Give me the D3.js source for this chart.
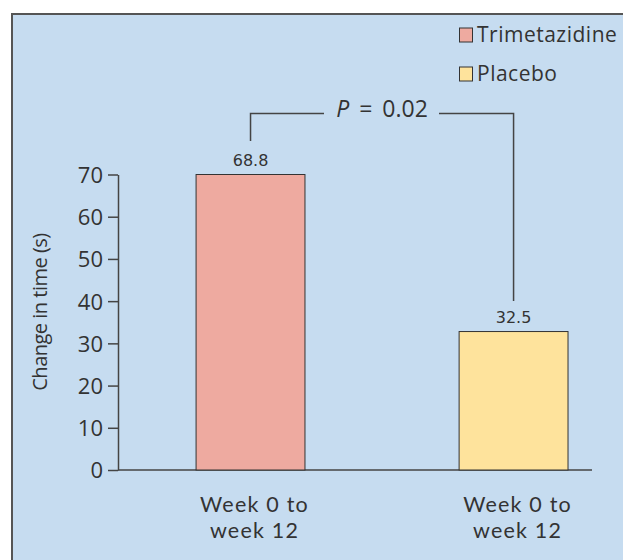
<!DOCTYPE html>
<html><head><meta charset="utf-8">
<script src="https://cdn.jsdelivr.net/npm/d3@7/dist/d3.min.js"></script>
<style>
html,body{margin:0;padding:0;background:#fff;}
svg{display:block;}
text{font-family:"Open Sans",Lato,sans-serif;fill:#333;}
</style></head>
<body>
<script>
const categories = ["Trimetazidine", "Placebo"];
const xLabels = [["Week 0 to", "week 12"], ["Week 0 to", "week 12"]];
const barValues = [70, 32.8];
const valueLabels = ["68.8", "32.5"];
const yTicks = [0, 10, 20, 30, 40, 50, 60, 70];
const colors = ["#eeaaa0", "#fee39c"];
const pText = ["P", "=", "0.02"];

const W = 623, H = 560;
const svg = d3.select("body").append("svg").attr("width", W).attr("height", H);

// panel
svg.append("rect").attr("x", 12).attr("y", 14).attr("width", W).attr("height", H)
  .attr("fill", "#c6dcf0").attr("stroke", "#555").attr("stroke-width", 2);

const y = d3.scaleLinear().domain([0, 70]).range([470, 174.5]);
const x = d3.scaleBand().domain(categories).range([118, 592])
  .paddingInner(0.586).paddingOuter(0.194).align(0.765);

// y axis
const yAxis = d3.axisLeft(y).tickValues(yTicks).tickSize(10).tickSizeOuter(0).tickPadding(5);
const gy = svg.append("g").attr("transform", "translate(118,0)").call(yAxis);
gy.selectAll("path,line").attr("stroke", "#444").attr("stroke-width", 1.5);
gy.selectAll("text").style("font-size", "22px").attr("fill", "#333").attr("dy", "0.36em");

// x axis line
svg.append("line").attr("x1", 118).attr("x2", 592).attr("y1", y(0)).attr("y2", y(0))
  .attr("stroke", "#444").attr("stroke-width", 1.5);

// bars
svg.selectAll("rect.bar").data(categories).join("rect").attr("class", "bar")
  .attr("x", d => x(d)).attr("width", x.bandwidth())
  .attr("y", (d, i) => y(barValues[i])).attr("height", (d, i) => y(0) - y(barValues[i]))
  .attr("fill", (d, i) => colors[i]).attr("stroke", "#333").attr("stroke-width", 1);

// value labels
svg.selectAll("text.val").data(categories).join("text").attr("class", "val")
  .attr("x", d => x(d) + x.bandwidth() / 2)
  .attr("y", (d, i) => y(barValues[i]) - 9)
  .attr("text-anchor", "middle").style("font-size", "16px")
  .style("font-family", "'DejaVu Sans',sans-serif")
  .text((d, i) => valueLabels[i]);

// x labels
categories.forEach((c, i) => {
  const cx = x(c) + x.bandwidth() / 2 + 4;
  xLabels[i].forEach((l, j) => svg.append("text").attr("text-anchor", "middle")
    .style("font-family", "Lato,sans-serif")
    .style("font-size", "21.5px").style("letter-spacing", "1.2px")
    .attr("x", cx).attr("y", 512 + j * 26).text(l));
});

// y title
svg.append("text").attr("transform", "translate(47,312) rotate(-90)")
  .attr("text-anchor", "middle").style("font-size", "20px").style("letter-spacing", "-0.5px")
  .text("Change in time (s)");

// bracket
const c1 = x(categories[0]) + x.bandwidth() / 2, c2 = x(categories[1]) + x.bandwidth() / 2;
const by = 113.5;
svg.append("path").attr("d", `M${c1},141V${by}H324M439,${by}H${c2}V301`)
  .attr("fill", "none").attr("stroke", "#444").attr("stroke-width", 1.5);
const pt = svg.append("text").attr("x", 382).attr("y", 117).attr("text-anchor", "middle")
  .style("font-size", "23px");
pt.append("tspan").style("font-style", "italic").text(pText[0]);
pt.append("tspan").attr("dx", 10).text(pText[1]);
pt.append("tspan").attr("dx", 10).text(pText[2]);

// legend
categories.forEach((c, i) => {
  const ly = 28 + i * 39;
  svg.append("rect").attr("x", 459.5).attr("y", ly).attr("width", 13).attr("height", 14)
    .attr("fill", colors[i]).attr("stroke", "#333").attr("stroke-width", 1);
  svg.append("text").attr("x", 477).attr("y", ly + 14).style("font-size", "21px")
    .style("letter-spacing", "0.5px").text(c);
});
</script>
</body></html>
